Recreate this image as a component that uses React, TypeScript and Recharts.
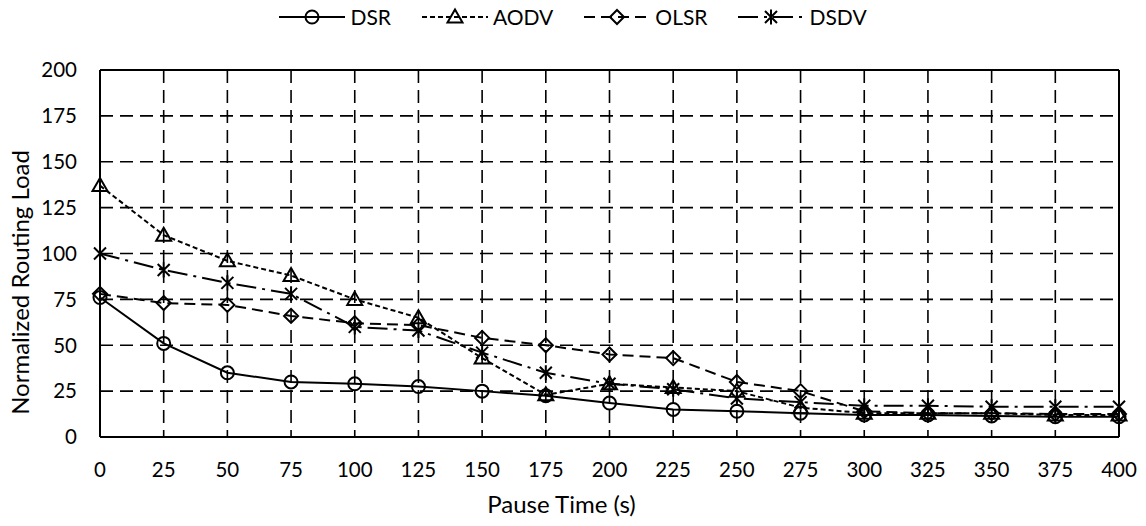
import { CartesianGrid, Line, LineChart, ReferenceLine, XAxis, YAxis } from "recharts";

const pauseTimes = [0, 25, 50, 75, 100, 125, 150, 175, 200, 225, 250, 275, 300, 325, 350, 375, 400];
const dsr = [76, 51, 35, 30, 29, 27.5, 25, 22.5, 18.5, 15, 14, 13, 12, 12, 11.5, 11, 11];
const aodv = [137, 110, 96, 88, 75, 65, 43, 23, 29, 27, 25, 16, 13, 13, 13, 12, 12];
const olsr = [78, 73, 72, 66, 62, 61, 54, 50, 45, 43, 30, 25, 14, 13, 13, 12.5, 12.5];
const dsdv = [100, 91, 84, 78, 60, 58, 46, 35, 29, 26, 21, 19, 17, 17, 16.5, 16.5, 16.5];
const yTicks = [0, 25, 50, 75, 100, 125, 150, 175, 200];

const data = pauseTimes.map((t, i) => ({
  pause: t,
  DSR: dsr[i],
  AODV: aodv[i],
  OLSR: olsr[i],
  DSDV: dsdv[i],
}));

type Kind = "circle" | "triangle" | "diamond" | "star";

const SERIES: { key: string; kind: Kind; dash?: string }[] = [
  { key: "DSR", kind: "circle" },
  { key: "AODV", kind: "triangle", dash: "5 3" },
  { key: "OLSR", kind: "diamond", dash: "11 6" },
  { key: "DSDV", kind: "star", dash: "20 6 3 6" },
];

const FONT = "Lato, 'Open Sans', sans-serif";

const Marker = ({ kind, cx, cy }: { kind: Kind; cx: number; cy: number }) => {
  const common = { fill: "none", stroke: "#000", strokeWidth: 2, strokeDasharray: "none" };
  if (cx == null || cy == null) return null;
  switch (kind) {
    case "circle":
      return <circle cx={cx} cy={cy} r={6.5} {...common} />;
    case "triangle":
      return <path d={`M${cx},${cy - 7.5}L${cx + 7.5},${cy + 5.5}L${cx - 7.5},${cy + 5.5}Z`} {...common} />;
    case "diamond":
      return <path d={`M${cx},${cy - 7}L${cx + 7},${cy}L${cx},${cy + 7}L${cx - 7},${cy}Z`} {...common} />;
    default:
      return (
        <path
          d={`M${cx - 6},${cy - 6}L${cx + 6},${cy + 6}M${cx - 6},${cy + 6}L${cx + 6},${cy - 6}M${cx},${cy - 7.5}L${cx},${cy + 7.5}`}
          {...common}
        />
      );
  }
};

const TopLegend = () => (
  <div
    style={{
      position: "absolute",
      top: 5,
      left: 0,
      width: 1146,
      display: "flex",
      justifyContent: "center",
      gap: 31,
      fontFamily: FONT,
      fontSize: 21,
      lineHeight: "24px",
    }}
  >
    {SERIES.map((s) => (
      <div key={s.key} style={{ display: "flex", alignItems: "center", gap: 5 }}>
        <svg width={66} height={24}>
          <line x1={0} y1={12} x2={66} y2={12} stroke="#000" strokeWidth={2} strokeDasharray={s.dash} />
          <Marker kind={s.kind} cx={33} cy={12} />
        </svg>
        <span>{s.key}</span>
      </div>
    ))}
  </div>
);

const XTitle = ({ viewBox }: any) => (
  <text
    x={viewBox.x + viewBox.width / 2 - 48}
    y={viewBox.y + viewBox.height - 13}
    textAnchor="middle"
    fontSize={24}
    fontFamily={FONT}
    fill="#000"
  >
    Pause Time (s)
  </text>
);

const YTitle = ({ viewBox }: any) => {
  const x = 19;
  const y = viewBox.y + viewBox.height / 2 + 29;
  return (
    <text
      x={x}
      y={y}
      transform={`rotate(-90 ${x} ${y})`}
      textAnchor="middle"
      dominantBaseline="central"
      fontSize={24}
      fontFamily={FONT}
      fill="#000"
    >
      Normalized Routing Load
    </text>
  );
};

export default function App() {
  return (
    <div style={{ position: "absolute", left: 0, top: 0, width: 1146, height: 526, background: "#fff" }}>
      <TopLegend />
      <LineChart
        width={1146}
        height={526}
        data={data}
        margin={{ top: 70, right: 27, bottom: 0, left: 0 }}
        style={{ fontFamily: FONT }}
      >
        <CartesianGrid stroke="#000" strokeWidth={1.6} strokeDasharray="13 7" />
        <XAxis
          dataKey="pause"
          type="number"
          domain={[0, 400]}
          ticks={pauseTimes}
          interval={0}
          height={89}
          tickLine={false}
          tickSize={0}
          tickMargin={25}
          axisLine={{ stroke: "#000", strokeWidth: 2 }}
          tick={{ fill: "#000", fontSize: 20.5, fontFamily: FONT }}
          label={<XTitle />}
        />
        <YAxis
          type="number"
          domain={[0, 200]}
          ticks={yTicks}
          interval={0}
          width={100}
          tickLine={false}
          tickSize={0}
          tickMargin={23}
          axisLine={{ stroke: "#000", strokeWidth: 2 }}
          tick={{ fill: "#000", fontSize: 20.5, fontFamily: FONT }}
          label={<YTitle />}
        />
        <ReferenceLine y={200} stroke="#000" strokeWidth={2} />
        <ReferenceLine x={400} stroke="#000" strokeWidth={2} />
        {SERIES.map((s) => (
          <Line
            key={s.key}
            dataKey={s.key}
            type="linear"
            stroke="#000"
            strokeWidth={2}
            strokeDasharray={s.dash}
            isAnimationActive={false}
            activeDot={false}
            dot={(p: any) => <Marker key={`${s.key}-${p.index}`} kind={s.kind} cx={p.cx} cy={p.cy} />}
          />
        ))}
      </LineChart>
    </div>
  );
}
